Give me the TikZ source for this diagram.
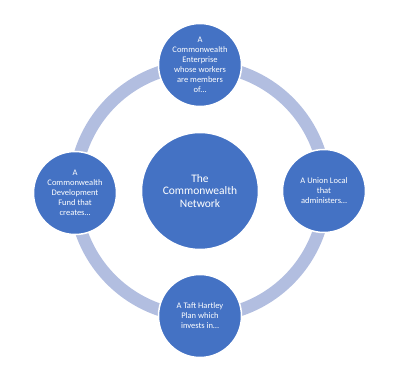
\documentclass[tikz,border=0pt]{standalone}
\usepackage{fontspec}
\setmainfont{Carlito}
\definecolor{accent}{RGB}{68,114,196}
\definecolor{ringc}{RGB}{178,190,224}
\begin{document}
\begin{tikzpicture}[x=1pt,y=-1pt,
  outer/.style={circle,fill=accent,draw=white,line width=1.5pt,minimum size=83pt,inner sep=0pt,
    text=white,align=center,font=\fontsize{8.5}{10}\selectfont},
  hub/.style={circle,fill=accent,draw=white,line width=1.5pt,minimum size=117pt,inner sep=0pt,
    text=white,align=center,font=\fontsize{11.5}{12.5}\selectfont},
  ring/.style={draw=ringc,line width=12.5pt}]
\useasboundingbox (0,0) rectangle (400,377);
\coordinate (c) at (200,191);
\draw[ring] (c) circle[radius=125.5];
\node[hub] (net) at (c) {The\\Commonwealth\\Network};
\node[outer] (top) at (200,65) {A\\Commonwealth\\Enterprise\\whose workers\\are members\\of…};
\node[outer] (right) at (324,191) {A Union Local\\that\\administers…};
\node[outer] (bottom) at (200,316) {A Taft Hartley\\Plan which\\invests in…};
\node[outer] (left) at (75,193) {A\\Commonwealth\\Development\\Fund that\\creates…};
\end{tikzpicture}
\end{document}
